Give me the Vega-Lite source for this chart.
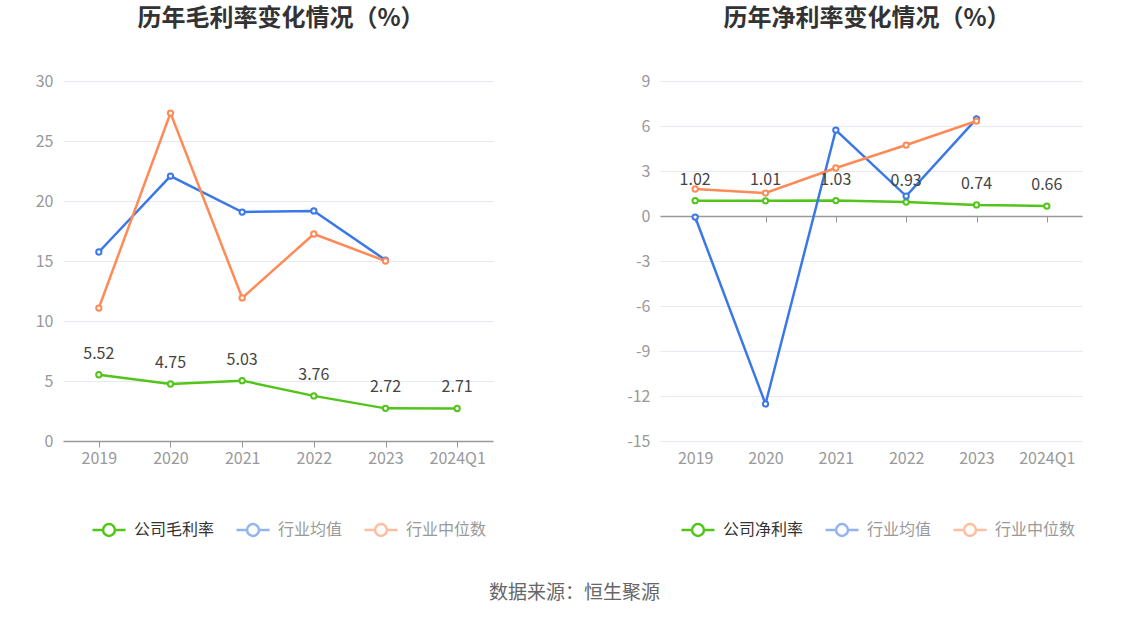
{
  "$schema": "https://vega.github.io/schema/vega-lite/v6.json",
  "padding": {"left": 35, "top": 7, "right": 10, "bottom": 10},
  "background": "white",
  "config": {
    "font": "Noto Sans CJK SC",
    "view": {"stroke": null},
    "axis": {"labelFont": "Noto Sans CJK SC"}
  },
  "title": {
    "text": "数据来源：恒生聚源",
    "orient": "bottom",
    "anchor": "middle",
    "fontSize": 19,
    "fontWeight": "normal",
    "color": "#666666",
    "offset": 43,
    "dx": 16
  },
  "datasets": {
    "gross": [
      {"year": "2019", "series": "公司毛利率", "value": 5.52},
      {"year": "2020", "series": "公司毛利率", "value": 4.75},
      {"year": "2021", "series": "公司毛利率", "value": 5.03},
      {"year": "2022", "series": "公司毛利率", "value": 3.76},
      {"year": "2023", "series": "公司毛利率", "value": 2.72},
      {"year": "2024Q1", "series": "公司毛利率", "value": 2.71},
      {"year": "2019", "series": "行业均值", "value": 15.75},
      {"year": "2020", "series": "行业均值", "value": 22.08},
      {"year": "2021", "series": "行业均值", "value": 19.08},
      {"year": "2022", "series": "行业均值", "value": 19.17},
      {"year": "2023", "series": "行业均值", "value": 15.08},
      {"year": "2019", "series": "行业中位数", "value": 11.08},
      {"year": "2020", "series": "行业中位数", "value": 27.33},
      {"year": "2021", "series": "行业中位数", "value": 11.92},
      {"year": "2022", "series": "行业中位数", "value": 17.25},
      {"year": "2023", "series": "行业中位数", "value": 15.0}
    ],
    "net": [
      {"year": "2019", "series": "公司净利率", "value": 1.02},
      {"year": "2020", "series": "公司净利率", "value": 1.01},
      {"year": "2021", "series": "公司净利率", "value": 1.03},
      {"year": "2022", "series": "公司净利率", "value": 0.93},
      {"year": "2023", "series": "公司净利率", "value": 0.74},
      {"year": "2024Q1", "series": "公司净利率", "value": 0.66},
      {"year": "2019", "series": "行业均值", "value": -0.07},
      {"year": "2020", "series": "行业均值", "value": -12.53},
      {"year": "2021", "series": "行业均值", "value": 5.73},
      {"year": "2022", "series": "行业均值", "value": 1.33},
      {"year": "2023", "series": "行业均值", "value": 6.47},
      {"year": "2019", "series": "行业中位数", "value": 1.8},
      {"year": "2020", "series": "行业中位数", "value": 1.53},
      {"year": "2021", "series": "行业中位数", "value": 3.2},
      {"year": "2022", "series": "行业中位数", "value": 4.73},
      {"year": "2023", "series": "行业中位数", "value": 6.33}
    ]
  },
  "spacing": 133,
  "resolve": {
    "scale": {"color": "independent", "x": "independent", "y": "independent"},
    "legend": {"color": "independent"}
  },
  "hconcat": [
    {
      "width": 430,
      "height": 360,
      "title": {
        "text": "历年毛利率变化情况（%）",
        "fontSize": 24,
        "fontWeight": "bold",
        "color": "#333333",
        "anchor": "middle",
        "frame": "group",
        "offset": 42,
        "dx": 3
      },
      "data": {"name": "gross"},
      "encoding": {
        "x": {
          "field": "year",
          "type": "ordinal",
          "scale": {"type": "point", "padding": 0.5, "domain": ["2019", "2020", "2021", "2022", "2023", "2024Q1"]},
          "axis": {
            "title": null,
            "labelAngle": 0,
            "labelFontSize": 16,
            "labelColor": "#999999",
            "domainColor": "#999999",
            "domainWidth": 1.5,
            "tickColor": "#999999",
            "tickSize": 6,
            "labelPadding": 3,
            "grid": false
          }
        },
        "y": {
          "field": "value",
          "type": "quantitative",
          "scale": {"domain": [0, 30], "nice": false},
          "axis": {
            "title": null,
            "values": [0, 5, 10, 15, 20, 25, 30],
            "grid": true,
            "gridColor": "#e6e9f4",
            "domain": false,
            "ticks": false,
            "labelFontSize": 16,
            "labelColor": "#999999",
            "labelPadding": 10
          }
        }
      },
      "layer": [
        {
          "mark": {"type": "line", "strokeWidth": 2.5},
          "encoding": {
            "color": {
              "field": "series",
              "type": "nominal",
              "scale": {"domain": ["公司毛利率", "行业均值", "行业中位数"], "range": ["#52c41a", "#3b78e7", "#ff8a56"]},
              "legend": {
                "title": null,
                "orient": "none",
                "legendX": 28,
                "legendY": 431,
                "direction": "horizontal",
                "symbolType": "M-1,0L-0.36,0M0.36,0A0.36,0.36,0,1,1,-0.36,0A0.36,0.36,0,1,1,0.36,0M0.36,0L1,0",
                "symbolSize": 1089,
                "symbolStrokeWidth": 2.5,
                "symbolFillColor": "white",
                "labelFontSize": 16,
                "labelOffset": 7,
                "columnPadding": 16,
                "encode": {
                  "symbols": {"update": {"opacity": {"signal": "datum.value === '公司毛利率' ? 1 : 0.55"}}},
                  "labels": {"update": {"fill": {"signal": "datum.value === '公司毛利率' ? '#333333' : '#999999'"}}}
                }
              }
            }
          }
        },
        {
          "mark": {"type": "point", "filled": false, "fill": "white", "fillOpacity": 1, "strokeWidth": 2, "size": 28, "opacity": 1},
          "encoding": {
            "color": {"field": "series", "type": "nominal"}
          }
        },
        {
          "transform": [{"filter": "datum.series === '公司毛利率'"}],
          "mark": {"type": "text", "dy": -21, "fontSize": 16, "color": "#444444"},
          "encoding": {
            "text": {"field": "value", "type": "quantitative", "format": ".2f"}
          }
        }
      ]
    },
    {
      "width": 422,
      "height": 360,
      "title": {
        "text": "历年净利率变化情况（%）",
        "fontSize": 24,
        "fontWeight": "bold",
        "color": "#333333",
        "anchor": "middle",
        "frame": "group",
        "offset": 42,
        "dx": -4
      },
      "data": {"name": "net"},
      "encoding": {
        "x": {
          "field": "year",
          "type": "ordinal",
          "scale": {"type": "point", "padding": 0.5, "domain": ["2019", "2020", "2021", "2022", "2023", "2024Q1"]},
          "axis": null
        },
        "y": {
          "field": "value",
          "type": "quantitative",
          "scale": {"domain": [-15, 9], "nice": false},
          "axis": {
            "title": null,
            "values": [-15, -12, -9, -6, -3, 0, 3, 6, 9],
            "labelExpr": "toString(datum.value)",
            "grid": true,
            "gridColor": "#e6e9f4",
            "domain": false,
            "ticks": false,
            "labelFontSize": 16,
            "labelColor": "#999999",
            "labelPadding": 10
          }
        }
      },
      "resolve": {"axis": {"x": "independent"}},
      "layer": [
        {
          "mark": {"type": "line", "strokeWidth": 2.5},
          "encoding": {
            "x": {
              "field": "year",
              "type": "ordinal",
              "axis": {
                "orient": "bottom",
                "title": null,
                "labelAngle": 0,
                "labelFontSize": 16,
                "labelColor": "#999999",
                "domain": false,
                "ticks": false,
                "labelPadding": 9,
                "grid": false
              }
            },
            "color": {
              "field": "series",
              "type": "nominal",
              "scale": {"domain": ["公司净利率", "行业均值", "行业中位数"], "range": ["#52c41a", "#3b78e7", "#ff8a56"]},
              "legend": {
                "title": null,
                "orient": "none",
                "legendX": 20,
                "legendY": 431,
                "direction": "horizontal",
                "symbolType": "M-1,0L-0.36,0M0.36,0A0.36,0.36,0,1,1,-0.36,0A0.36,0.36,0,1,1,0.36,0M0.36,0L1,0",
                "symbolSize": 1089,
                "symbolStrokeWidth": 2.5,
                "symbolFillColor": "white",
                "labelFontSize": 16,
                "labelOffset": 7,
                "columnPadding": 16,
                "encode": {
                  "symbols": {"update": {"opacity": {"signal": "datum.value === '公司净利率' ? 1 : 0.55"}}},
                  "labels": {"update": {"fill": {"signal": "datum.value === '公司净利率' ? '#333333' : '#999999'"}}}
                }
              }
            }
          }
        },
        {
          "mark": {"type": "point", "filled": false, "fill": "white", "fillOpacity": 1, "strokeWidth": 2, "size": 28, "opacity": 1},
          "encoding": {
            "x": {
              "field": "year",
              "type": "ordinal",
              "axis": {
                "orient": "bottom",
                "offset": -225,
                "title": null,
                "labels": false,
                "domainColor": "#999999",
                "domainWidth": 1.5,
                "tickColor": "#999999",
                "tickSize": 6,
                "grid": false
              }
            },
            "color": {"field": "series", "type": "nominal"}
          }
        },
        {
          "transform": [{"filter": "datum.series === '公司净利率'"}],
          "mark": {"type": "text", "dy": -21, "fontSize": 16, "color": "#444444"},
          "encoding": {
            "text": {"field": "value", "type": "quantitative", "format": ".2f"}
          }
        }
      ]
    }
  ]
}
